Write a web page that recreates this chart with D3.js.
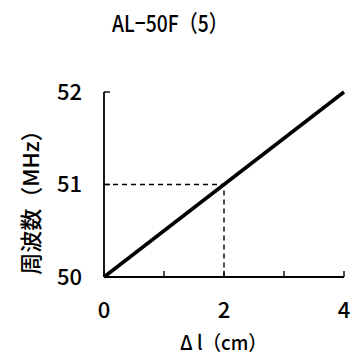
<!DOCTYPE html>
<html>
<head>
<meta charset="utf-8">
<script src="https://cdn.jsdelivr.net/npm/d3@7"></script>
<style>
  body { margin: 0; background: #fff; }
  text { font-family: "Noto Sans CJK JP", "DejaVu Sans", sans-serif; fill: #000; font-weight: 500; }
</style>
</head>
<body>
<div id="chart"></div>
<script>
const title = 'AL−50F（5）';
const xLabel = 'Δ l（cm）';
const yLabel = '周波数（MHz）';
const dl = [0, 4];
const freq = [50, 52];
const markX = 2;
const markY = 51;
const xTickLabels = [0, 2, 4];
const yTickLabels = [50, 51, 52];
const xTicks = [0, 1, 2, 3, 4];

const width = 358, height = 358;
const svg = d3.select('#chart').append('svg')
  .attr('width', width)
  .attr('height', height);

const x = d3.scaleLinear().domain([0, 4]).range([104, 344]);
const y = d3.scaleLinear().domain([50, 52]).range([277, 92]);

// axes lines
svg.append('line')
  .attr('x1', x(0)).attr('x2', x(4))
  .attr('y1', y(50)).attr('y2', y(50))
  .attr('stroke', '#000').attr('stroke-width', 1.8);
svg.append('line')
  .attr('x1', x(0)).attr('x2', x(0))
  .attr('y1', y(50)).attr('y2', y(52))
  .attr('stroke', '#000').attr('stroke-width', 1.8);

// inward ticks
svg.append('g').selectAll('line')
  .data(xTicks)
  .enter().append('line')
  .attr('x1', d => x(d)).attr('x2', d => x(d))
  .attr('y1', y(50)).attr('y2', y(50) - 6)
  .attr('stroke', '#000').attr('stroke-width', 1.4);
svg.append('g').selectAll('line')
  .data(yTickLabels)
  .enter().append('line')
  .attr('x1', x(0)).attr('x2', x(0) + 6)
  .attr('y1', d => y(d)).attr('y2', d => y(d))
  .attr('stroke', '#000').attr('stroke-width', 1.4);

// dashed guide lines
svg.append('path')
  .attr('d', `M${x(0)},${y(markY)}H${x(markX)}V${y(50)}`)
  .attr('fill', 'none')
  .attr('stroke', '#000')
  .attr('stroke-width', 1.4)
  .attr('stroke-dasharray', '5,4');

// data line
const line = d3.line().x(d => x(d[0])).y(d => y(d[1]));
svg.append('path')
  .datum(dl.map((d, i) => [d, freq[i]]))
  .attr('d', line)
  .attr('fill', 'none')
  .attr('stroke', '#000')
  .attr('stroke-width', 3.5);

// tick labels
svg.append('g').selectAll('text')
  .data(yTickLabels)
  .enter().append('text')
  .attr('x', 82).attr('y', d => y(d))
  .attr('dy', '0.36em')
  .attr('text-anchor', 'end')
  .attr('font-size', '22px')
  .text(d => d);
svg.append('g').selectAll('text')
  .data(xTickLabels)
  .enter().append('text')
  .attr('x', d => x(d)).attr('y', 310)
  .attr('dy', '0.36em')
  .attr('text-anchor', 'middle')
  .attr('font-size', '22px')
  .text(d => d);

// titles
svg.append('text')
  .attr('x', 112).attr('y', 24)
  .attr('dy', '0.36em')
  .attr('font-size', '23px')
  .attr('textLength', 116)
  .attr('lengthAdjust', 'spacingAndGlyphs')
  .text(title);
svg.append('text')
  .attr('x', 180).attr('y', 343)
  .attr('dy', '0.36em')
  .attr('font-size', '20px')
  .attr('textLength', 87)
  .attr('lengthAdjust', 'spacingAndGlyphs')
  .text(xLabel);
svg.append('text')
  .attr('transform', 'translate(31,197) rotate(-90)')
  .attr('dy', '0.36em')
  .attr('text-anchor', 'middle')
  .attr('font-size', '22px')
  .text(yLabel);
</script>
</body>
</html>
